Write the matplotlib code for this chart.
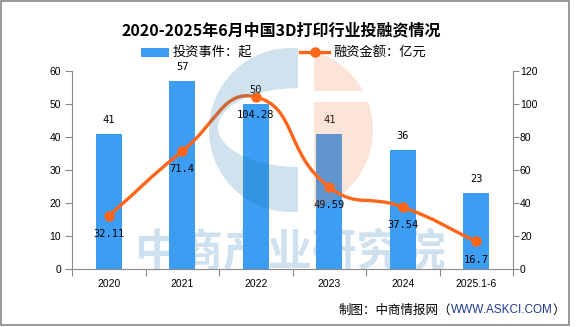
import matplotlib
matplotlib.use('Agg')
import matplotlib.pyplot as plt
import matplotlib.patches as mpatches
from matplotlib.path import Path
import numpy as np

plt.rcParams['font.family'] = ['Noto Sans CJK SC', 'DejaVu Sans']

# Data
categories = ['2020', '2021', '2022', '2023', '2024', '2025.1-6']
events = [41, 57, 50, 41, 36, 23]              # 投资事件：起
amounts = [32.11, 71.4, 104.28, 49.59, 37.54, 16.7]   # 融资金额：亿元

title = '2020-2025年6月中国3D打印行业投融资情况'

bar_color = '#3d9df2'
line_color = '#ff661a'
spine_color = '#888888'
W, H = 581, 327

fig = plt.figure(figsize=(W / 100, H / 100), dpi=100)
fig.patch.set_facecolor('white')

# background layer (watermark text, border)
bg = fig.add_axes([0, 0, 1, 1], zorder=-1)
bg.set_xlim(0, W)
bg.set_ylim(H, 0)
bg.axis('off')

bg.text(290, 253, '中商产业研究院', fontsize=32, fontweight='bold', color='#cfe1ee',
        ha='center', va='center')
bg.add_patch(mpatches.Rectangle((1, 0.5), 568, 324.5, fill=False, edgecolor=spine_color, lw=1.2))

# main axes
ax = fig.add_axes([72 / W, 1 - 269 / H, 441 / W, 198 / H])
ax.patch.set_visible(False)
ax2 = ax.twinx()
ax2.patch.set_visible(False)

x = np.arange(len(categories))
bars = ax.bar(x, events, width=0.355, color=bar_color, zorder=2)
ax.set_xlim(-0.5, len(categories) - 0.5)
ax.set_ylim(0, 60)
ax.set_yticks(range(0, 61, 10))
ax2.set_ylim(0, 120)
ax2.set_yticks(range(0, 121, 20))

# category ticks at boundaries, labels at centers
ax.set_xticks(np.arange(-0.5, len(categories), 1.0))
ax.set_xticklabels([])
ax.set_xticks(x, minor=True)
ax.set_xticklabels(categories, minor=True)
ax.tick_params(axis='x', which='major', length=5, color=spine_color, direction='out')
ax.tick_params(axis='x', which='minor', length=0, pad=7, labelsize=7.5)
ax.tick_params(axis='y', length=5, color=spine_color, pad=3, labelsize=7.5)
ax2.tick_params(axis='y', length=4, color=spine_color, pad=1, labelsize=7.5)
for lab in ax.get_xticklabels(minor=True) + ax.get_yticklabels() + ax2.get_yticklabels():
    lab.set_fontfamily('Liberation Sans')

for a in (ax, ax2):
    a.spines['top'].set_visible(False)
    for s in ('left', 'right', 'bottom'):
        a.spines[s].set_color(spine_color)
ax.spines['right'].set_visible(False)
ax2.spines['left'].set_visible(False)
ax2.spines['bottom'].set_visible(False)

# bar value labels
for xi, v in zip(x, events):
    ax.annotate(str(v), (xi, v), xytext=(0, 10), textcoords='offset points',
                ha='center', va='center', fontsize=7.5, family='DejaVu Sans Mono', zorder=5)

# smoothed line (echarts style bezier through the data points)
pts = ax2.transData.transform(np.column_stack([x, amounts]))
smooth = 0.5
n = len(pts)
verts = [pts[0]]
codes = [Path.MOVETO]
cout = pts[0] + (pts[1] - pts[0]) * smooth
for i in range(1, n):
    p = pts[i]
    if i == n - 1:
        cin = p - (p - pts[i - 1]) * smooth
        nxt_out = p
    else:
        v = pts[i + 1] - pts[i - 1]
        l0 = np.hypot(*(p - pts[i - 1]))
        l1 = np.hypot(*(pts[i + 1] - p))
        r = l1 / (l0 + l1)
        cin = p - v * smooth * (1 - r)
        nxt_out = p + v * smooth * r
    verts += [cout, cin, p]
    codes += [Path.CURVE4] * 3
    cout = nxt_out
data_verts = ax2.transData.inverted().transform(np.array(verts))
ax2.add_patch(mpatches.PathPatch(Path(data_verts, codes), fill=False, edgecolor=line_color,
                                 lw=2.4, zorder=3, capstyle='round', joinstyle='round'))
ax2.plot(x, amounts, 'o', color=line_color, markersize=6.5, zorder=4)
for xi, v in zip(x, amounts):
    ax2.annotate(f'{v:g}', (xi, v), xytext=(0, -13), textcoords='offset points',
                 ha='center', va='center', fontsize=7.5, family='DejaVu Sans Mono', zorder=5)

# foreground layer: logo watermark, title, legend, footer
fg = fig.add_axes([0, 0, 1, 1], zorder=10)
fg.set_xlim(0, W)
fg.set_ylim(H, 0)
fg.axis('off')

cx, cy, R = 291, 130, 82
a0 = np.arccos((298 - cx) / R)
t = np.linspace(a0, 2 * np.pi - a0, 120)
outer = np.column_stack([cx + R * np.cos(t), cy - R * np.sin(t)])
ex, ey, A, B = 300, 127.5, 82, 39.5
b0 = np.arccos((298 - ex) / A)
s = np.linspace(2 * np.pi - b0, b0, 120)
inner = np.column_stack([ex + A * np.cos(s), ey - B * np.sin(s)])
fg.add_patch(mpatches.Polygon(np.vstack([outer, inner]), closed=True,
                              facecolor=(0.08, 0.43, 0.67), alpha=0.2, lw=0))
tc = np.linspace(0, 2 * np.pi, 200)
circ = np.column_stack([cx + R * np.cos(tc), cy - R * np.sin(tc)])
top = np.column_stack([np.maximum(circ[:, 0], 314), np.minimum(circ[:, 1], 91)])
bot = np.column_stack([np.maximum(circ[:, 0], 314), np.maximum(circ[:, 1], 102)])
for poly in (top, bot):
    fg.add_patch(mpatches.Polygon(poly, closed=True, facecolor=(0.94, 0.47, 0.24), alpha=0.2, lw=0))

fg.text(281, 30, title, fontsize=11.5, fontweight='bold', ha='center', va='center')

fg.add_patch(mpatches.Rectangle((141, 48), 28, 9, facecolor=bar_color, lw=0))
fg.text(173, 52.5, '投资事件：起', fontsize=9.5, ha='left', va='center')
fg.plot([300, 329], [52, 52], color=line_color, lw=2.4)
fg.plot([315], [52], 'o', color=line_color, markersize=6.5)
fg.text(333, 52.5, '融资金额：亿元', fontsize=9.5, ha='left', va='center')

t3 = fg.text(565, 310, '）', fontsize=9, ha='right', va='center')
t2 = fg.annotate('WWW.ASKCI.COM', xy=(0, 0.5), xycoords=t3, ha='right', va='center',
                 fontsize=8.5, color='#1f3a8f', family='Liberation Sans')
fg.annotate('制图：中商情报网（', xy=(0, 0.5), xycoords=t2, ha='right', va='center', fontsize=9)

fig.savefig('out.png', dpi=100)
